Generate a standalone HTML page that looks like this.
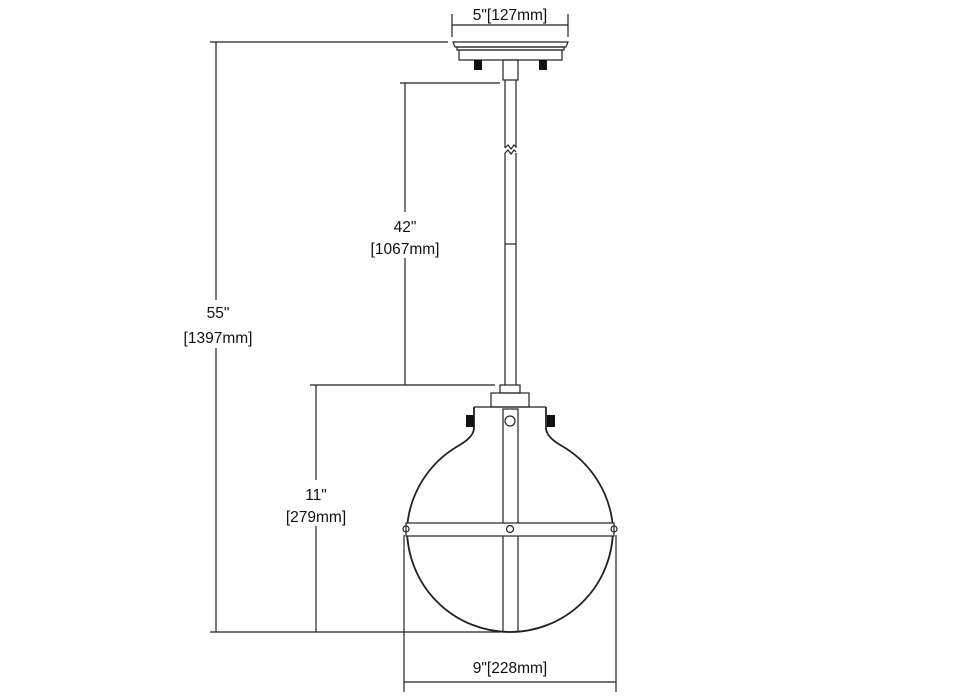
<!DOCTYPE html>
<html><head><style>body{margin:0;background:#fff}svg{display:block}text{font-family:"Liberation Sans",sans-serif;font-size:15.5px;fill:#111}</style></head><body>
<svg width="980" height="700" viewBox="0 0 980 700" xmlns="http://www.w3.org/2000/svg">
<g stroke="#222" stroke-width="1.2" fill="none">
<line x1="210" y1="42" x2="448" y2="42"/>
<line x1="210" y1="632" x2="500" y2="632"/>
<line x1="216" y1="42" x2="216" y2="300"/>
<line x1="216" y1="348" x2="216" y2="632"/>
<line x1="400" y1="83" x2="500" y2="83"/>
<line x1="310" y1="385" x2="495" y2="385"/>
<line x1="405" y1="83" x2="405" y2="212"/>
<line x1="405" y1="258" x2="405" y2="385"/>
<line x1="316" y1="385" x2="316" y2="480"/>
<line x1="316" y1="526" x2="316" y2="632"/>
<line x1="452" y1="14" x2="452" y2="37"/>
<line x1="568" y1="14" x2="568" y2="37"/>
<line x1="452" y1="25" x2="568" y2="25"/>
<line x1="404" y1="535" x2="404" y2="692"/>
<line x1="616" y1="535" x2="616" y2="692"/>
<line x1="404" y1="682" x2="616" y2="682"/>
<path d="M453,42 L568,42 L566,47 L455,47 Z"/>
<rect x="457" y="47" width="107" height="3"/>
<rect x="459" y="50" width="103" height="10"/>
<rect x="503" y="60" width="15" height="20"/>
<line x1="505" y1="80" x2="505" y2="148"/>
<line x1="516" y1="80" x2="516" y2="148"/>
<line x1="505" y1="153" x2="505" y2="385"/>
<line x1="516" y1="153" x2="516" y2="385"/>
<path d="M505,148 l3,-3 l3,4 l3,-4 l2,2"/>
<path d="M505,153 l3,-3 l3,4 l3,-4 l2,2"/>
<line x1="505" y1="244" x2="516" y2="244"/>
<rect x="500" y="385" width="20" height="8"/>
<rect x="491" y="393" width="38" height="14"/>
<path d="M474,407 L546,407" />
<path d="M474,407 L474,428 Q474,437 458,446 A103,103 0 0 0 407,529 A103,103 0 0 0 613,529 A103,103 0 0 0 562,446 Q546,437 546,428 L546,407" stroke-width="1.8"/>
<rect x="503" y="409" width="15" height="223"/>
<rect x="406" y="523" width="208" height="13" fill="#fff"/>
<circle cx="510" cy="421" r="5"/>
<circle cx="510" cy="529" r="3.5"/>
<circle cx="406" cy="529" r="3"/>
<circle cx="614" cy="529" r="3"/>
</g>
<g fill="#111">
<rect x="474" y="60" width="8" height="10"/>
<rect x="539" y="60" width="8" height="10"/>
<rect x="466" y="415" width="8" height="12"/>
<rect x="547" y="415" width="8" height="12"/>
</g>
<g text-anchor="middle">
<text x="510" y="20">5"[127mm]</text>
<text x="218" y="318">55"</text>
<text x="218" y="343">[1397mm]</text>
<text x="405" y="232">42"</text>
<text x="405" y="254">[1067mm]</text>
<text x="316" y="500">11"</text>
<text x="316" y="522">[279mm]</text>
<text x="510" y="673">9"[228mm]</text>
</g>
</svg>
</body></html>
